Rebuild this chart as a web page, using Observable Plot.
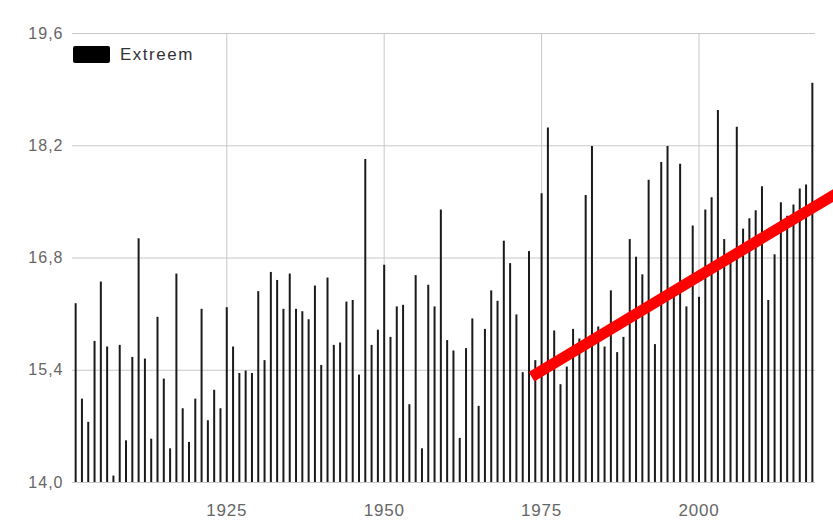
<!DOCTYPE html>
<html>
<head>
<meta charset="utf-8">
<script src="https://cdn.jsdelivr.net/npm/d3@7"></script>
<script src="https://cdn.jsdelivr.net/npm/@observablehq/plot@0.6"></script>
<style>
  html, body { margin: 0; padding: 0; background: #fff; }
  #wrap { position: relative; width: 833px; height: 527px; font-family: "Liberation Sans", Arial, sans-serif; }
  #legend { position: absolute; left: 73px; top: 46px; display: flex; align-items: center; }
  #legend .sw { width: 37px; height: 17px; background: #000; border-radius: 2px; }
  #legend .lb { margin-left: 10px; font-size: 17px; color: #333; letter-spacing: 1.5px; line-height: 17px; }
  #wrap svg [aria-label="y-axis tick label"] text { letter-spacing: 1px; }
  #wrap svg [aria-label="x-axis tick label"] text { letter-spacing: 0.8px; }
</style>
</head>
<body>
<div id="wrap"><div id="legend"><div class="sw"></div><div class="lb">Extreem</div></div></div>
<script>
// Data
const firstYear = 1901;
const lastYear = 2018;
const seriesName = "Extreem";
const values = [
  16.23, 15.04, 14.75, 15.76, 16.50, 15.69, 14.08, 15.71, 14.52, 15.56, // 1901-1910
  17.04, 15.54, 14.54, 16.06, 15.29, 14.42, 16.60, 14.92, 14.50, 15.04, // 1911-1920
  16.16, 14.77, 15.15, 14.92, 16.18, 15.69, 15.36, 15.39, 15.36, 16.38, // 1921-1930
  15.52, 16.62, 16.52, 16.16, 16.60, 16.16, 16.13, 16.03, 16.45, 15.46, // 1931-1940
  16.55, 15.71, 15.74, 16.25, 16.27, 15.34, 18.03, 15.71, 15.90, 16.71, // 1941-1950
  15.81, 16.19, 16.21, 14.97, 16.58, 14.42, 16.46, 16.19, 17.40, 15.77, // 1951-1960
  15.64, 14.55, 15.67, 16.04, 14.95, 15.91, 16.39, 16.26, 17.01, 16.73, // 1961-1970
  16.09, 15.37, 16.88, 15.52, 17.60, 18.42, 15.89, 15.22, 15.44, 15.91, // 1971-1980
  15.79, 17.58, 18.19, 15.94, 15.69, 16.39, 15.62, 15.81, 17.03, 16.81, // 1981-1990
  16.59, 17.77, 15.72, 17.99, 18.19, 16.35, 17.97, 16.19, 17.20, 16.31, // 1991-2000
  17.40, 17.55, 18.64, 17.03, 16.75, 18.43, 17.16, 17.29, 17.39, 17.69, // 2001-2010
  16.27, 16.84, 17.49, 17.32, 17.46, 17.66, 17.71, 18.98               // 2011-2018
];
const yTicks = [14.0, 15.4, 16.8, 18.2, 19.6];
const xTicks = [1925, 1950, 1975, 2000];
const baseValue = 14.0;
const trendYears = [1973.4, 2023];
const trendValues = [15.32, 17.66];

const years = d3.range(firstYear, lastYear + 1);
const data = years.map((year, i) => ({year, value: values[i]}));
const trend = trendYears.map((year, i) => ({year, value: trendValues[i]}));

const chart = Plot.plot({
  width: 833,
  height: 527,
  marginLeft: 72,
  marginRight: 18,
  marginTop: 33,
  marginBottom: 45,
  style: {fontFamily: "'Liberation Sans', Arial, sans-serif", fontSize: "16px", background: "#fff"},
  x: {domain: [firstYear - 0.5, lastYear + 0.5]},
  y: {domain: [yTicks[0], yTicks[yTicks.length - 1]]},
  marks: [
    Plot.gridY(yTicks, {stroke: "#c8c8c8", strokeOpacity: 1}),
    Plot.gridX(xTicks, {stroke: "#c8c8c8", strokeOpacity: 1}),
    Plot.axisY(yTicks, {tickSize: 0, tickPadding: 9, color: "#666", fontSize: 16,
      tickFormat: d => d.toFixed(1).replace(".", ","), label: null}),
    Plot.axisX(xTicks, {tickSize: 0, tickPadding: 21, color: "#666", fontSize: 17,
      tickFormat: d => String(d), label: null}),
    Plot.ruleX(data, {x: "year", y1: baseValue, y2: "value", stroke: "#1a1a1a", strokeWidth: 2}),
    Plot.line(trend, {x: "year", y: "value", stroke: "#ff0000", strokeWidth: 11, strokeLinecap: "butt"})
  ]
});
document.getElementById("wrap").prepend(chart);
</script>
</body>
</html>
